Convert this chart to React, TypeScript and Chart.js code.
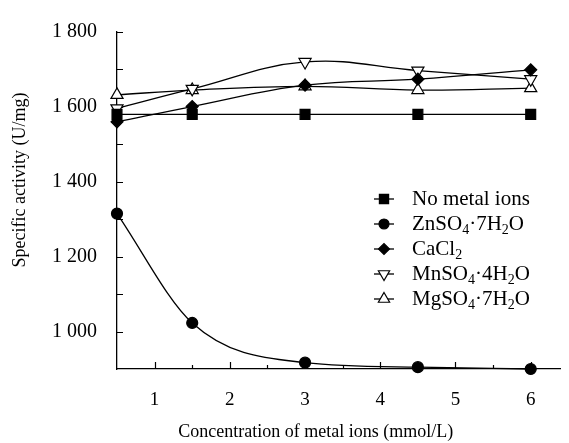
import React, { useEffect, useRef } from 'react';
import { Chart, registerables } from 'chart.js';
import { drawPoint } from 'chart.js/helpers';

Chart.register(...registerables);

// ---- data ----
const concentrations = [0.5, 1.5, 3, 4.5, 6];
const noMetalIons = [1580, 1580, 1580, 1580, 1580];
const znSO4 = [1315, 1023, 917, 905, 900];
const caCl2 = [1560, 1601, 1658, 1674, 1699];
const mnSO4 = [1596, 1648, 1720, 1697, 1674];
const mgSO4 = [1632, 1645, 1655, 1645, 1650];

const seriesLabels = ['No metal ions', 'ZnSO_4·7H_2O', 'CaCl_2', 'MnSO_4·4H_2O', 'MgSO_4·7H_2O'];

const xTickLabels = [1, 2, 3, 4, 5, 6];
const xMinorTicks = [1, 1.5, 2, 2.5, 3, 3.5, 4, 4.5, 5, 5.5, 6];
const yTickLabels = [1000, 1200, 1400, 1600, 1800];
const yMinorTicks = [1000, 1100, 1200, 1300, 1400, 1500, 1600, 1700, 1800];

const xTitle = 'Concentration of metal ions (mmol/L)';
const yTitle = 'Specific activity (U/mg)';

const FONT = '"Liberation Serif", "Times New Roman", serif';

type Marker = { style: string; rotation: number; radius: number; fill: string };
const markers: Marker[] = [
  { style: 'rect', rotation: 0, radius: 7, fill: '#000' },
  { style: 'circle', rotation: 0, radius: 5.5, fill: '#000' },
  { style: 'rectRot', rotation: 0, radius: 6, fill: '#000' },
  { style: 'triangle', rotation: 180, radius: 7, fill: '#fff' },
  { style: 'triangle', rotation: 0, radius: 7, fill: '#fff' },
];

const formatThousands = (v: number) => String(v).replace(/(\d)(\d{3})$/, '$1 $2');

function drawRich(ctx: CanvasRenderingContext2D, text: string, x: number, y: number, size: number) {
  const parts = text.split(/(_\d)/).filter((p) => p.length > 0);
  let cx = x;
  for (const p of parts) {
    if (p.startsWith('_')) {
      ctx.font = `${Math.round(size * 0.65)}px ${FONT}`;
      ctx.fillText(p.slice(1), cx, y + size * 0.28);
      cx += ctx.measureText(p.slice(1)).width;
    } else {
      ctx.font = `${size}px ${FONT}`;
      ctx.fillText(p, cx, y);
      cx += ctx.measureText(p).width;
    }
  }
}

const decorPlugin = {
  id: 'decor',
  beforeDatasetsDraw(chart: any) {
    const { ctx, chartArea: ca, scales } = chart;
    ctx.save();
    ctx.strokeStyle = '#000';
    ctx.lineWidth = 1.2;
    ctx.beginPath();
    for (const v of xMinorTicks) {
      const px = Math.round(scales.x.getPixelForValue(v)) + 0.5;
      const len = Number.isInteger(v) ? 7 : 4;
      ctx.moveTo(px, ca.bottom);
      ctx.lineTo(px, ca.bottom - len);
    }
    for (const v of yMinorTicks) {
      const py = Math.round(scales.y.getPixelForValue(v)) + 0.5;
      ctx.moveTo(ca.left, py);
      ctx.lineTo(ca.left + 6, py);
    }
    ctx.stroke();
    ctx.restore();
  },
  afterDraw(chart: any) {
    const { ctx, chartArea: ca } = chart;
    ctx.save();
    ctx.fillStyle = '#000';
    // axis titles
    ctx.font = `18px ${FONT}`;
    ctx.textAlign = 'center';
    ctx.textBaseline = 'middle';
    ctx.fillText(xTitle, ca.left + (ca.right - ca.left) * 0.448, 432);
    ctx.save();
    ctx.translate(20, 180);
    ctx.rotate(-Math.PI / 2);
    ctx.fillText(yTitle, 0, 0);
    ctx.restore();

    // legend
    const lx = ca.left + 267;
    const ly0 = ca.top + 167;
    const step = 25;
    ctx.textAlign = 'left';
    ctx.textBaseline = 'middle';
    seriesLabels.forEach((label, i) => {
      const y = ly0 + i * step;
      const m = markers[i];
      ctx.strokeStyle = '#000';
      ctx.lineWidth = 1.3;
      ctx.beginPath();
      ctx.moveTo(lx - 10, y);
      ctx.lineTo(lx + 10, y);
      ctx.stroke();
      ctx.fillStyle = m.fill;
      ctx.strokeStyle = '#000';
      ctx.lineWidth = 1.2;
      drawPoint(ctx, { pointStyle: m.style as any, rotation: m.rotation, radius: m.radius - 0.5, borderWidth: 1.2 }, lx, y);
      ctx.fillStyle = '#000';
      drawRich(ctx, label, lx + 28, y, 21);
    });
    ctx.restore();
  },
};

const seriesValues = [noMetalIons, znSO4, caCl2, mnSO4, mgSO4];

export default function App() {
  const canvasRef = useRef<HTMLCanvasElement | null>(null);

  useEffect(() => {
    if (!canvasRef.current) return;
    Chart.defaults.font.family = FONT;
    Chart.defaults.color = '#000';

    const datasets = seriesValues.map((vals, i) => {
      const m = markers[i];
      return {
        label: seriesLabels[i],
        data: vals.map((y, j) => ({ x: concentrations[j], y })),
        borderColor: '#000',
        borderWidth: 1.3,
        pointStyle: m.style,
        pointRotation: m.rotation,
        pointRadius: m.radius,
        pointBackgroundColor: m.fill,
        pointBorderColor: '#000',
        pointBorderWidth: 1.2,
        tension: i === 1 ? 0 : 0.4,
        cubicInterpolationMode: i === 1 ? 'monotone' : 'default',
        fill: false,
        clip: false,
      };
    });

    const chart = new Chart(canvasRef.current, {
      type: 'line',
      data: { datasets } as any,
      options: {
        animation: false,
        responsive: true,
        maintainAspectRatio: false,
        layout: { padding: { top: 20, right: 1, left: 0, bottom: 0 } },
        plugins: { legend: { display: false }, tooltip: { enabled: false } },
        scales: {
          x: {
            type: 'linear',
            min: 0.5,
            max: 6.4,
            afterBuildTicks: (scale: any) => {
              scale.ticks = xTickLabels.map((v) => ({ value: v }));
            },
            afterFit: (scale: any) => {
              scale.height = 74;
            },
            ticks: {
              font: { size: 19, family: FONT },
              color: '#000',
              padding: 20,
              maxRotation: 0,
              callback: (v: any) => String(v),
            },
            grid: { display: true, drawOnChartArea: false, drawTicks: false },
            border: { display: true, color: '#000', width: 1.3 },
          },
          y: {
            type: 'linear',
            min: 900,
            max: 1800,
            afterBuildTicks: (scale: any) => {
              scale.ticks = yTickLabels.map((v) => ({ value: v }));
            },
            afterFit: (scale: any) => {
              scale.width = 117;
            },
            ticks: {
              font: { size: 20, family: FONT },
              color: '#000',
              padding: 20,
              callback: (v: any) => formatThousands(Number(v)),
            },
            grid: { display: true, drawOnChartArea: false, drawTicks: false },
            border: { display: true, color: '#000', width: 1.3 },
          },
        },
      },
      plugins: [decorPlugin],
    } as any);

    return () => chart.destroy();
  }, []);

  return (
    <div style={{ position: 'fixed', left: 0, top: 0, width: 569, height: 443, background: '#fff' }}>
      <canvas ref={canvasRef} />
    </div>
  );
}
